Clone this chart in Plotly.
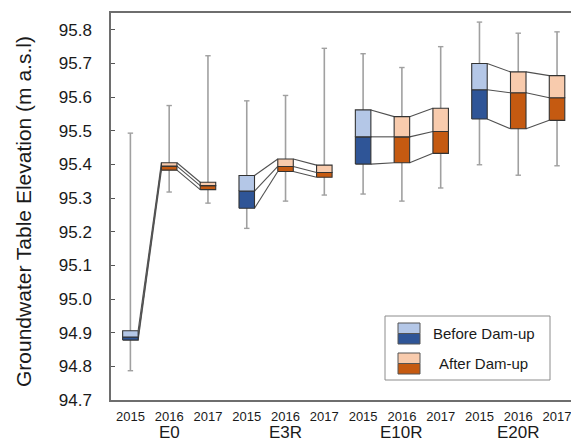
import plotly.graph_objects as go

# Groundwater table elevation statistics per well site and year
sites = ["E0", "E3R", "E10R", "E20R"]
years = ["2015", "2016", "2017"]
period = ["Before", "After", "After"] * 4

whisker_low = [94.787, 95.318, 95.285,
               95.210, 95.291, 95.309,
               95.312, 95.291, 95.330,
               95.399, 95.368, 95.396]
q1 = [94.878, 95.383, 95.325,
      95.270, 95.379, 95.362,
      95.401, 95.405, 95.433,
      95.535, 95.506, 95.531]
median = [94.887, 95.395, 95.337,
          95.321, 95.394, 95.376,
          95.482, 95.482, 95.498,
          95.622, 95.613, 95.598]
q3 = [94.906, 95.405, 95.347,
      95.367, 95.416, 95.398,
      95.562, 95.542, 95.567,
      95.700, 95.675, 95.664]
whisker_high = [95.493, 95.575, 95.723,
                95.589, 95.605, 95.745,
                95.729, 95.688, 95.750,
                95.823, 95.790, 95.794]

y_ticks = [94.7, 94.8, 94.9, 95.0, 95.1, 95.2, 95.3, 95.4, 95.5, 95.6, 95.7, 95.8]

colors = {
    "Before": ("#b4c7e7", "#2f5597"),
    "After": ("#f8cbad", "#c55a11"),
}

FONT = "Liberation Sans, Arial, Helvetica, sans-serif"
W, H = 571, 443
ML, MR, MT, MB = 111, 0, 13, 43
HW = 0.2      # half box width (category units)
CAP = 0.07    # half whisker-cap width

n = len(q1)
pos = list(range(n))

fig = go.Figure()

# whiskers
wx, wy = [], []
for i in pos:
    wx += [i, i, None]
    wy += [whisker_low[i], whisker_high[i], None]
fig.add_trace(go.Scatter(x=wx, y=wy, mode="lines",
                         line=dict(color="#a0a0a0", width=1.6),
                         hoverinfo="skip", showlegend=False))
cx, cy = [], []
for i in pos:
    for v in (whisker_low[i], whisker_high[i]):
        cx += [i - CAP, i + CAP, None]
        cy += [v, v, None]
fig.add_trace(go.Scatter(x=cx, y=cy, mode="lines",
                         line=dict(color="#a0a0a0", width=1.4),
                         hoverinfo="skip", showlegend=False))

# lines joining quartiles / medians of consecutive years within a site
lx, ly = [], []
for g in range(len(sites)):
    for k in range(len(years) - 1):
        a = g * len(years) + k
        b = a + 1
        for stat in (q3, median, q1):
            lx += [a + HW, b - HW, None]
            ly += [stat[a], stat[b], None]
fig.add_trace(go.Scatter(x=lx, y=ly, mode="lines",
                         line=dict(color="#505050", width=1.1),
                         hoverinfo="skip", showlegend=False))

# two-tone boxes: dark lower half (q1-median), light upper half (median-q3)
for p in ("Before", "After"):
    light, dark = colors[p]
    for lo_arr, hi_arr, col in ((q1, median, dark), (median, q3, light)):
        bx, by = [], []
        for i in pos:
            if period[i] != p:
                continue
            lo, hi = lo_arr[i], hi_arr[i]
            bx += [i - HW, i + HW, i + HW, i - HW, i - HW, None]
            by += [lo, lo, hi, hi, lo, None]
        fig.add_trace(go.Scatter(x=bx, y=by, mode="lines", fill="toself",
                                 fillcolor=col,
                                 line=dict(color="#333333", width=1.1),
                                 hoverinfo="skip", showlegend=False))

# pixel -> paper helpers for the legend panel
pw, ph = W - ML - MR, H - MT - MB


def px(x):
    return (x - ML) / pw


def py(y):
    return (H - MB - y) / ph


shapes = [
    dict(type="rect", xref="paper", yref="paper",
         x0=px(385), x1=px(550), y0=py(380), y1=py(316),
         line=dict(color="#8c8c8c", width=1), fillcolor="white"),
]
annotations = []
legend_rows = [("Before", "Before Dam-up", 323, 344, 431),
               ("After", "After Dam-up", 353, 374, 437)]
for p, label, top, bot, tx in legend_rows:
    light, dark = colors[p]
    mid = (top + bot) / 2
    shapes.append(dict(type="rect", xref="paper", yref="paper",
                       x0=px(398), x1=px(420), y0=py(mid), y1=py(top),
                       line=dict(color="#555555", width=1), fillcolor=light))
    shapes.append(dict(type="rect", xref="paper", yref="paper",
                       x0=px(398), x1=px(420), y0=py(bot), y1=py(mid),
                       line=dict(color="#555555", width=1), fillcolor=dark))
    annotations.append(dict(xref="paper", yref="paper", x=px(tx), y=py(mid),
                            xanchor="left", yanchor="middle", showarrow=False,
                            text=label, font=dict(family=FONT, size=15, color="#1a1a1a")))

# site names under the year labels
for g, s in enumerate(sites):
    annotations.append(dict(xref="x", yref="paper", x=g * len(years) + 1, y=py(444),
                            xanchor="center", yanchor="bottom",
                            showarrow=False, text=s,
                            font=dict(family=FONT, size=17, color="#1a1a1a")))

# y-axis title
annotations.append(dict(xref="paper", yref="paper", x=px(23), y=py(212),
                        xanchor="center", yanchor="middle", textangle=-90,
                        showarrow=False, text="Groundwater Table Elevation (m a.s.l)",
                        font=dict(family=FONT, size=21, color="#1a1a1a")))

fig.update_layout(
    width=W, height=H,
    margin=dict(l=ML, r=MR, t=MT, b=MB, pad=0),
    plot_bgcolor="white", paper_bgcolor="white",
    shapes=shapes, annotations=annotations,
    showlegend=False,
    xaxis=dict(range=[-0.5, 11.36], tickvals=pos, ticktext=years * len(sites),
               showline=True, mirror=True, linecolor="#6e6e6e", linewidth=1.5,
               showgrid=False, zeroline=False, ticks="",
               ticklabeloverflow="allow", ticklabelstandoff=4,
               tickfont=dict(family=FONT, size=13, color="#1a1a1a")),
    yaxis=dict(range=[94.7, 95.85], tickvals=y_ticks,
               ticktext=[f"{v:.1f}" for v in y_ticks],
               showline=True, mirror=False, linecolor="#6e6e6e", linewidth=1.5,
               showgrid=False, zeroline=False, ticks="inside", ticklen=4,
               tickcolor="#555555", ticklabelstandoff=14,
               tickfont=dict(family=FONT, size=17, color="#1a1a1a")),
)

fig.write_html("out.html")
